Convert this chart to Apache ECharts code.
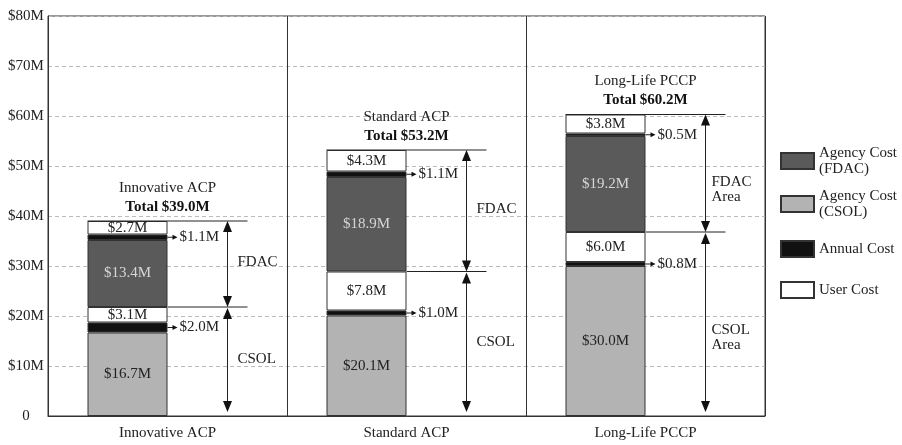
<!DOCTYPE html>
<html>
<head>
<meta charset="utf-8">
<script src="https://cdn.jsdelivr.net/npm/echarts@6/dist/echarts.min.js"></script>
<style>
html,body{margin:0;padding:0;background:#fff;}
#main{width:902px;height:445px;}
</style>
</head>
<body>
<div id="main"></div>
<script>
// ---- data ----
const categories = ['Innovative ACP', 'Standard ACP', 'Long-Life PCCP'];
const csolAgency = [16.7, 20.1, 30.0];
const csolAnnual = [2.0, 1.0, 0.8];
const csolUser   = [3.1, 7.8, 6.0];
const fdacAgency = [13.4, 18.9, 19.2];
const fdacAnnual = [1.1, 1.1, 0.5];
const fdacUser   = [2.7, 4.3, 3.8];
const totals     = [39.0, 53.2, 60.2];
const fdacNotes  = ['FDAC', 'FDAC', 'FDAC\nArea'];
const csolNotes  = ['CSOL', 'CSOL', 'CSOL\nArea'];
const yMin = 0, yMax = 80, yStep = 10;

// ---- derived ----
const csolTop = categories.map((c, i) => csolAgency[i] + csolAnnual[i] + csolUser[i]);
const stackTop = categories.map((c, i) => csolTop[i] + fdacAgency[i] + fdacAnnual[i] + fdacUser[i]);
const annoData = categories.map((c, i) => [
  i, csolTop[i], stackTop[i],
  csolAgency[i] + csolAnnual[i] / 2,
  csolTop[i] + fdacAgency[i] + fdacAnnual[i] / 2
]);

const FONT = 'Liberation Serif';
const TXT = '#222';
const BAR_W = 80;
const money = v => '$' + Number(v).toFixed(1) + 'M';

function seg(name, data, color, label) {
  return {
    name: name, type: 'bar', stack: 'cost', data: data,
    barWidth: BAR_W, barGap: '0%',
    itemStyle: { color: color, borderColor: '#333', borderWidth: 1 },
    label: Object.assign({ show: true, fontFamily: FONT, fontSize: 15, color: TXT,
      formatter: p => money(p.value) }, label),
    emphasis: { disabled: true }
  };
}

function renderAnno(params, api) {
  const i = api.value(0);
  const base = api.coord([i, 0]);
  const cx = base[0], y0 = base[1];
  const barLeft = cx - BAR_W, barRight = cx;
  const yMid = api.coord([i, api.value(1)])[1];
  const yTop = api.coord([i, api.value(2)])[1];
  const yA1 = api.coord([i, api.value(3)])[1];
  const yA2 = api.coord([i, api.value(4)])[1];
  const ax = barRight + 60, lineEnd = barRight + 80;
  const ls = { stroke: '#222', lineWidth: 1 };
  const ch = [];
  ch.push({ type: 'line', shape: { x1: barLeft, y1: yTop, x2: lineEnd, y2: yTop }, style: ls });
  ch.push({ type: 'line', shape: { x1: barRight, y1: yMid, x2: lineEnd, y2: yMid }, style: ls });
  function dbl(ya, yb) {
    ch.push({ type: 'line', shape: { x1: ax, y1: ya + 4, x2: ax, y2: yb - 4 }, style: ls });
    ch.push({ type: 'polygon', shape: { points: [[ax, ya], [ax - 4.5, ya + 11], [ax + 4.5, ya + 11]] }, style: { fill: '#111' } });
    ch.push({ type: 'polygon', shape: { points: [[ax, yb], [ax - 4.5, yb - 11], [ax + 4.5, yb - 11]] }, style: { fill: '#111' } });
  }
  dbl(yTop, yMid);
  dbl(yMid + 1, y0 - 4);
  [yA1, yA2].forEach(y => {
    ch.push({ type: 'line', shape: { x1: barRight, y1: y, x2: barRight + 6, y2: y }, style: ls });
    ch.push({ type: 'polygon', shape: { points: [[barRight + 10, y], [barRight + 5, y - 2.5], [barRight + 5, y + 2.5]] }, style: { fill: '#111' } });
  });
  const fN = fdacNotes[i], cN = csolNotes[i];
  const tst = (t, x, y) => ({ type: 'text', x: x, y: y,
    style: { text: t, fill: TXT, font: '15px "' + FONT + '"', align: 'left', verticalAlign: 'middle', lineHeight: 15 } });
  ch.push(tst(fN, ax + (fN.indexOf('\n') >= 0 ? 6 : 10), (yTop + yMid) / 2 + (fN.indexOf('\n') >= 0 ? 16 : -2)));
  ch.push(tst(cN, ax + (cN.indexOf('\n') >= 0 ? 6 : 10), (yMid + y0) / 2 + (cN.indexOf('\n') >= 0 ? 14 : -2)));
  ch.push({ type: 'text', x: cx, y: yTop - 33,
    style: { text: categories[i], fill: TXT, font: '15px "' + FONT + '"', align: 'center', verticalAlign: 'middle' } });
  ch.push({ type: 'text', x: cx, y: yTop - 14,
    style: { text: 'Total ' + money(totals[i]), fill: '#111', font: 'bold 15px "' + FONT + '"', align: 'center', verticalAlign: 'middle' } });
  return { type: 'group', children: ch };
}

function legendOf(name, top, twoLine, text) {
  return {
    data: [name], orient: 'vertical', left: 775, top: top,
    icon: 'rect', itemWidth: 33, itemHeight: 16, itemGap: 0,
    formatter: () => text,
    textStyle: Object.assign({ fontFamily: FONT, fontSize: 15, color: TXT, lineHeight: 16 },
      twoLine ? { padding: [16, 0, 0, 0] } : {}),
    selectedMode: false
  };
}

const chart = echarts.init(document.getElementById('main'), null, { renderer: 'canvas' });
chart.setOption({
  animation: false,
  backgroundColor: '#fff',
  textStyle: { fontFamily: FONT },
  grid: { left: 48, right: 137, top: 16, bottom: 29, show: true, borderColor: '#333', borderWidth: 1 },
  legend: [
    legendOf('Agency Cost (FDAC)', 132, true, 'Agency Cost\n(FDAC)'),
    legendOf('Agency Cost (CSOL)', 175, true, 'Agency Cost\n(CSOL)'),
    legendOf('Annual Cost', 235, false, 'Annual Cost'),
    legendOf('User Cost', 276, false, 'User Cost')
  ],
  xAxis: {
    type: 'category', data: categories,
    axisTick: { show: false },
    axisLine: { lineStyle: { color: '#333' } },
    axisLabel: { fontFamily: FONT, fontSize: 15, color: TXT, margin: 10 },
    splitLine: { show: true, lineStyle: { color: '#333', width: 1 } }
  },
  yAxis: {
    type: 'value', min: yMin, max: yMax, interval: yStep,
    axisLine: { show: true, lineStyle: { color: '#333' } },
    axisTick: { show: false },
    axisLabel: { fontFamily: FONT, fontSize: 15, color: TXT, align: 'center', margin: 22,
      formatter: v => v === 0 ? '0' : '$' + v + 'M' },
    splitLine: { show: true, lineStyle: { color: '#bbb', type: [4, 3] } }
  },
  series: [
    seg('Agency Cost (CSOL)', csolAgency, '#b3b3b3', { position: 'inside' }),
    seg('Annual Cost', csolAnnual, '#111', { position: 'right', distance: 12 }),
    seg('User Cost', csolUser, '#fff', { position: 'inside' }),
    seg('Agency Cost (FDAC)', fdacAgency, '#5a5a5a', { position: 'inside', color: '#d6d6d6' }),
    seg('Annual Cost', fdacAnnual, '#111', { position: 'right', distance: 12 }),
    seg('User Cost', fdacUser, '#fff', { position: 'inside' }),
    { name: 'spacer', type: 'bar', data: categories.map(() => 0), barWidth: BAR_W, barGap: '0%',
      itemStyle: { color: 'transparent' }, silent: true },
    { name: 'annotations', type: 'custom', data: annoData, renderItem: renderAnno, silent: true, z: 5 }
  ]
});
</script>
</body>
</html>
